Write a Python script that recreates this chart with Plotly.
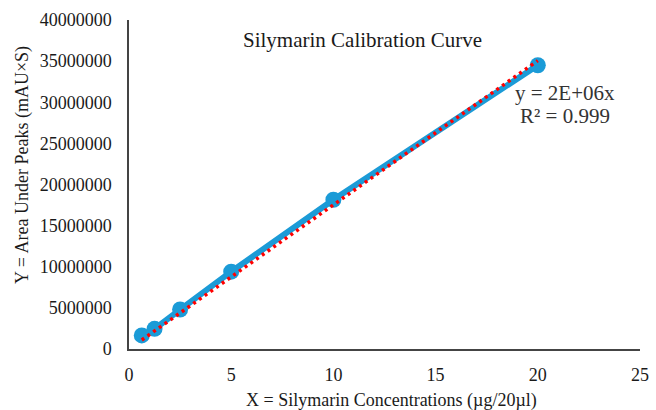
import numpy as np
import plotly.graph_objects as go

conc = [0.625, 1.25, 2.5, 5, 10, 20]
area = [1650000, 2450000, 4800000, 9400000, 18150000, 34500000]
x_ticks = [0, 5, 10, 15, 20, 25]
y_ticks = [0, 5000000, 10000000, 15000000, 20000000, 25000000, 30000000, 35000000, 40000000]
eq_text = "y = 2E+06x"
r2_text = "R² = 0.999"

x_arr = np.array(conc, dtype=float)
y_arr = np.array(area, dtype=float)
slope = float((x_arr * y_arr).sum() / (x_arr ** 2).sum())

FONT = "Liberation Serif"
BLUE = "#1b9bd7"
TXT = "#1a1a1a"

L, T, B, R = 129, 20, 61, 16
PW, PH = 656 - L - R, 410 - T - B


def px(xp):
    return (xp - L) / PW


def py(yp):
    return (410 - B - yp) / PH


fig = go.Figure()
fig.add_trace(go.Scatter(
    x=conc, y=area, mode="lines+markers",
    line=dict(color=BLUE, width=6),
    marker=dict(color=BLUE, size=16),
    showlegend=False, hoverinfo="skip"))
fig.add_trace(go.Scatter(
    x=[conc[0], conc[-1]], y=[slope * conc[0], slope * conc[-1]], mode="lines",
    line=dict(color="#ff0000", width=3.5, dash="3px,4px"),
    showlegend=False, hoverinfo="skip"))

fig.update_layout(
    width=656, height=410,
    margin=dict(l=L, r=R, t=T, b=B),
    paper_bgcolor="white", plot_bgcolor="white",
    font=dict(family=FONT, size=18, color=TXT),
    xaxis=dict(range=[0, 25], tickvals=x_ticks, showgrid=False, zeroline=False,
               showline=True, linecolor="#444444", linewidth=1.5, ticks="",
               tickfont=dict(size=18, color=TXT, family=FONT), fixedrange=True,
               automargin=False, ticklabelstandoff=9),
    yaxis=dict(range=[0, 40000000], tickvals=y_ticks, tickformat="d", showgrid=False,
               zeroline=False, showline=True, linecolor="#444444", linewidth=1.5,
               ticks="", tickfont=dict(size=18, color=TXT, family=FONT), fixedrange=True,
               automargin=False, ticklabelstandoff=12),
    annotations=[
        dict(text="Silymarin Calibration Curve", xref="paper", yref="paper",
             x=px(362), y=py(40), xanchor="center", yanchor="middle", showarrow=False,
             font=dict(size=21, family=FONT, color=TXT)),
        dict(text=eq_text, xref="paper", yref="paper",
             x=px(565), y=py(93), xanchor="center", yanchor="middle", showarrow=False,
             font=dict(size=21, family=FONT, color="#333333")),
        dict(text=r2_text, xref="paper", yref="paper",
             x=px(565), y=py(116), xanchor="center", yanchor="middle", showarrow=False,
             font=dict(size=21, family=FONT, color="#333333")),
        dict(text="X = Silymarin Concentrations (µg/20µl)", xref="paper", yref="paper",
             x=px(391), y=py(400), xanchor="center", yanchor="middle",
             showarrow=False, font=dict(size=18, family=FONT, color=TXT)),
        dict(text="Y = Area Under Peaks (mAU×S)", xref="paper", yref="paper",
             x=px(22), y=py(165), xanchor="center",
             yanchor="middle", textangle=-90, showarrow=False,
             font=dict(size=18, family=FONT, color=TXT)),
    ],
)

fig.write_html("out.html", config={"displayModeBar": False},
               post_script="document.body.style.margin='0';document.body.style.overflow='hidden';")
